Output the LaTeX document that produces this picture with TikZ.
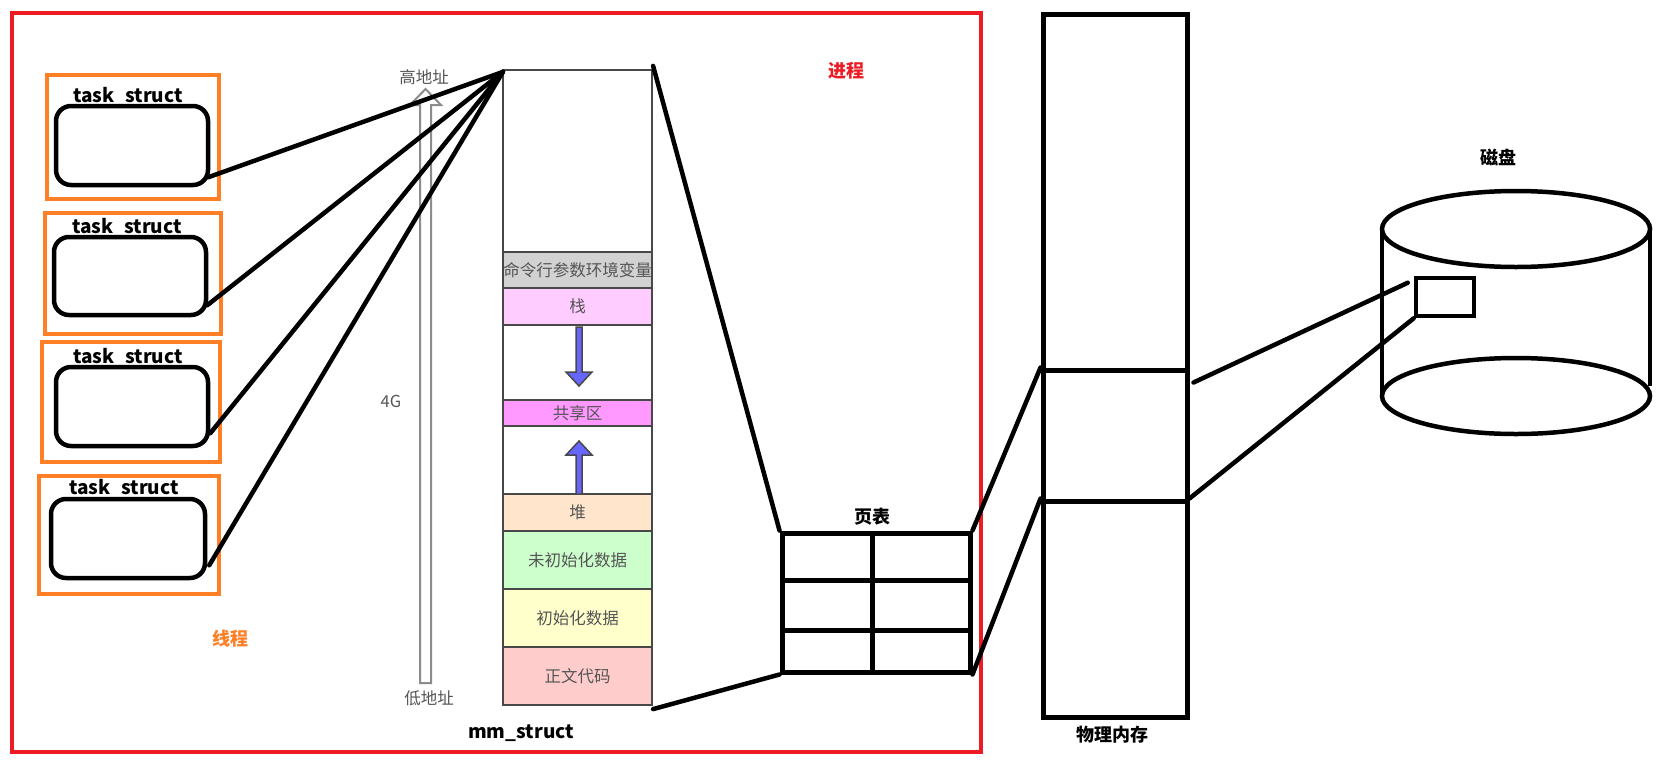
\documentclass[tikz,border=0pt]{standalone}
\usepackage{fontspec}
\setmainfont{Noto Sans CJK SC}
\usetikzlibrary{calc}
\definecolor{pred}{HTML}{ED1C24}
\definecolor{porange}{HTML}{FF7F27}
\definecolor{segline}{HTML}{484848}
\definecolor{segtext}{HTML}{555555}
\definecolor{cgray}{HTML}{D2D2D2}
\definecolor{cstack}{HTML}{FFCCFF}
\definecolor{cshare}{HTML}{FF99FF}
\definecolor{cheap}{HTML}{FFE5CC}
\definecolor{cbss}{HTML}{CCFFCC}
\definecolor{cdata}{HTML}{FFFFCC}
\definecolor{ctext}{HTML}{FFCCCC}
\definecolor{cblue}{HTML}{6666FF}
\newcommand\tsfont{\fontsize{19pt}{22pt}\selectfont\bfseries}
\newcommand\bigfont{\fontsize{18pt}{21pt}\selectfont\bfseries}
\newcommand\segfont{\fontsize{16.5pt}{19pt}\selectfont}
\begin{document}
\begin{tikzpicture}[x=1pt,y=-1pt,
  obox/.style={draw=porange, line width=4.5pt, inner sep=0pt},
  taskbox/.style={draw=black, line width=4.5pt, rounded corners=15pt, inner sep=0pt},
  seg/.style={draw=segline, line width=2.2pt, minimum width=149pt, inner sep=0pt, text=segtext, font=\segfont},
  conn/.style={draw=black, line width=4.5pt, line cap=round},
  thick box/.style={draw=black, line width=5pt, inner sep=0pt},
  tslabel/.style={font=\tsfont, anchor=base, inner sep=0pt},
  graylabel/.style={font=\segfont, text=segtext, inner sep=0pt}
]
\useasboundingbox (0,0) rectangle (1659,763);
\fill[white] (0,0) rectangle (1659,763);

% process frame
\draw[pred, line width=4pt] (12,13) rectangle (981,752);
\node[font=\bigfont, text=pred] (proc) at (846,71) {进程};
\node[font=\bigfont, text=porange] (thr) at (230,639) {线程};

% thread boxes
\node[obox, minimum width=172pt, minimum height=124pt] (ob1) at (133,137) {};
\node[obox, minimum width=176pt, minimum height=121pt] (ob2) at (133,273.5) {};
\node[obox, minimum width=178pt, minimum height=120pt] (ob3) at (131,402) {};
\node[obox, minimum width=180pt, minimum height=118pt] (ob4) at (129,535) {};

\node[tslabel] (lb1) at (128,102) {task\phantom{\_}struct};
\node[tslabel] (lb2) at (127,233) {task\phantom{\_}struct};
\node[tslabel] (lb3) at (128,363) {task\phantom{\_}struct};
\node[tslabel] (lb4) at (124,494) {task\phantom{\_}struct};

\node[taskbox, minimum width=152pt, minimum height=79pt] (rr1) at (132,145.5) {};
\node[taskbox, minimum width=152pt, minimum height=78pt] (rr2) at (130,276) {};
\node[taskbox, minimum width=152pt, minimum height=79pt] (rr3) at (132,406.5) {};
\node[taskbox, minimum width=154pt, minimum height=79pt] (rr4) at (128,538.5) {};

% address arrow
\draw[draw=gray!90, line width=2pt, fill=white, line join=miter]
  (420,683) -- (431,683) -- (431,105) -- (441,105) -- (425.5,89) -- (410,105) -- (420,105) -- cycle;
\node[graylabel] (hi) at (424,77) {高地址};
\node[graylabel] (lo) at (429,698) {低地址};
\node[graylabel] (fourg) at (391,401) {4G};

% mm_struct column
\node[seg, minimum height=182pt] (s1) at (577.5,161) {};
\node[seg, minimum height=36pt, fill=cgray] (s2) at (577.5,270) {命令行参数环境变量};
\node[seg, minimum height=37pt, fill=cstack] (s3) at (577.5,306.5) {\raisebox{-3pt}{栈}};
\node[seg, minimum height=75pt] (s4) at (577.5,362.5) {};
\node[seg, minimum height=26pt, fill=cshare] (s5) at (577.5,413) {共享区};
\node[seg, minimum height=68pt] (s6) at (577.5,460) {};
\node[seg, minimum height=37pt, fill=cheap] (s7) at (577.5,512.5) {堆};
\node[seg, minimum height=58pt, fill=cbss] (s8) at (577.5,560) {未初始化数据};
\node[seg, minimum height=58pt, fill=cdata] (s9) at (577.5,618) {初始化数据};
\node[seg, minimum height=58pt, fill=ctext] (s10) at (577.5,676) {正文代码};
\node[font=\tsfont] (mm) at (521,733) {mm\_struct};

% blue growth arrows
\draw[fill=cblue, draw=segline, line width=1.5pt, line join=miter]
  (576,327) -- (582,327) -- (582,372) -- (592,372) -- (579,386) -- (566,372) -- (576,372) -- cycle;
\draw[fill=cblue, draw=segline, line width=1.5pt, line join=miter]
  (576,494) -- (582,494) -- (582,455) -- (592,455) -- (579,441) -- (566,455) -- (576,455) -- cycle;

% connectors threads -> mm_struct
\coordinate (mmtop) at ($(s1.north west)+(1,3)$);
\coordinate (t1) at ($(rr1.south east)+(-2,-10)$);
\coordinate (t2) at ($(rr2.south east)+(-1,-12)$);
\coordinate (t3) at ($(rr3.south east)+(0,-15)$);
\coordinate (t4) at ($(rr4.south east)+(2,-15)$);
\draw[conn] (t1) -- (mmtop);
\draw[conn] (t2) -- (mmtop);
\draw[conn] (t3) -- (mmtop);
\draw[conn] (t4) -- (mmtop);

% page table
\node[thick box, minimum width=90pt, minimum height=47pt] (c11) at (827,556.5) {};
\node[thick box, minimum width=98pt, minimum height=47pt] (c12) at (921,556.5) {};
\node[thick box, minimum width=90pt, minimum height=50pt] (c21) at (827,605) {};
\node[thick box, minimum width=98pt, minimum height=50pt] (c22) at (921,605) {};
\node[thick box, minimum width=90pt, minimum height=42pt] (c31) at (827,651) {};
\node[thick box, minimum width=98pt, minimum height=42pt] (c32) at (921,651) {};
\node[font=\bigfont] (ptl) at (872,517) {页表};

\coordinate (s1ne) at ($(s1.north east)+(0,-3)$);
\coordinate (s10se) at ($(s10.south east)+(0,3)$);
\draw[conn] (s1ne) -- (c11.north west);
\draw[conn] (s10se) -- (c31.south west);

% physical memory
\node[thick box, minimum width=144pt, minimum height=356pt] (pm1) at (1115,192) {};
\node[thick box, minimum width=144pt, minimum height=131pt] (pm2) at (1115,435.5) {};
\node[thick box, minimum width=144pt, minimum height=216pt] (pm3) at (1115,609) {};
\node[font=\bigfont] (pml) at (1112,735) {物理内存};

\draw[conn] (c12.north east) -- (pm2.north west);
\draw[conn] (c32.south east) -- (pm3.north west);

% disk
\draw[line width=4.5pt] (1516,229) ellipse [x radius=134, y radius=38];
\draw[line width=4.5pt] (1516,396) ellipse [x radius=134, y radius=38];
\draw[line width=4.5pt] (1382,229) -- (1382,396);
\draw[line width=4.5pt] (1650,229) -- (1650,386);
\node[font=\bigfont] (dl) at (1498,157) {磁盘};
\node[draw=black, line width=4.5pt, minimum width=58pt, minimum height=38pt, inner sep=0pt] (sb) at (1445,297) {};

\coordinate (p2r) at ($(pm2.north east)+(4,15)$);
\coordinate (sbl) at ($(sb.north west)+(-6,7)$);
\draw[conn] (p2r) -- (sbl);
\draw[conn] (pm3.north east) -- (sb.south west);
\end{tikzpicture}
\end{document}
